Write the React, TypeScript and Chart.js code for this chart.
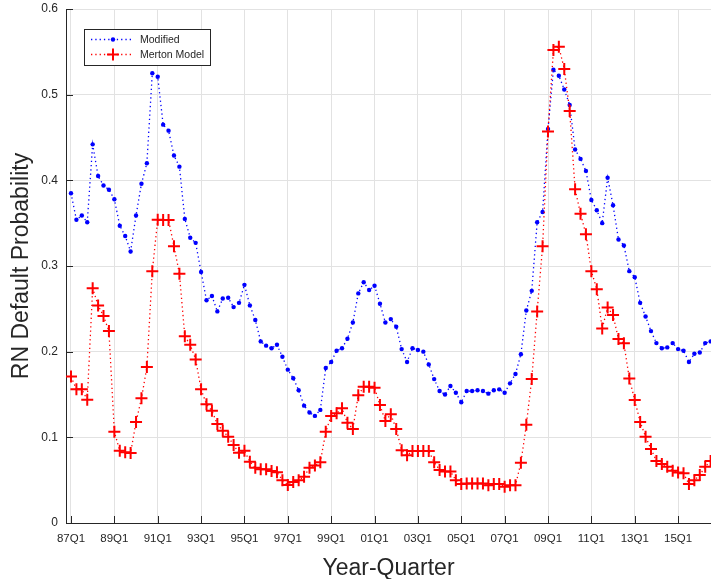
import React, { useEffect, useRef } from "react";
import { Chart, registerables } from "chart.js";
Chart.register(...registerables);

// Quarterly series, index 0 = 87Q1 ... 118 = 16Q3
const modified = [
  0.385, 0.354, 0.359, 0.351, 0.442, 0.405, 0.394, 0.389, 0.378, 0.347,
  0.335, 0.317, 0.359, 0.396, 0.42, 0.525, 0.521, 0.465, 0.458, 0.429,
  0.416, 0.355, 0.333, 0.327, 0.293, 0.26, 0.265, 0.247, 0.262, 0.263,
  0.252, 0.257, 0.278, 0.254, 0.237, 0.212, 0.207, 0.204, 0.208, 0.194,
  0.179, 0.169, 0.155, 0.137, 0.129, 0.125, 0.132, 0.181, 0.188, 0.201,
  0.204, 0.215, 0.234, 0.268, 0.281, 0.272, 0.277, 0.256, 0.234, 0.238,
  0.229, 0.203, 0.188, 0.204, 0.202, 0.2, 0.185, 0.168, 0.154, 0.15,
  0.16, 0.152, 0.141, 0.154, 0.154, 0.155, 0.154, 0.151, 0.155, 0.156,
  0.152, 0.163, 0.174, 0.197, 0.248, 0.271, 0.351, 0.363, 0.46, 0.529,
  0.522, 0.506, 0.488, 0.436, 0.425, 0.411, 0.377, 0.365, 0.35, 0.403,
  0.371, 0.331, 0.324, 0.294, 0.287, 0.257, 0.241, 0.224, 0.21, 0.204,
  0.205, 0.21, 0.203, 0.201, 0.188, 0.1975, 0.199, 0.21, 0.212,
];

const merton = [
  0.171, 0.156, 0.156, 0.144, 0.274, 0.254, 0.2415, 0.224, 0.1065, 0.0844,
  0.0825, 0.0817, 0.118, 0.1455, 0.182, 0.294, 0.354, 0.3536, 0.3536, 0.323,
  0.291, 0.218, 0.208, 0.191, 0.156, 0.1385, 0.131, 0.1155, 0.1077, 0.1007,
  0.091, 0.082, 0.0844, 0.0715, 0.0645, 0.0627, 0.0627, 0.0607, 0.0592, 0.05,
  0.0443, 0.048, 0.05, 0.054, 0.0645, 0.067, 0.071, 0.1065, 0.125, 0.128,
  0.134, 0.117, 0.1097, 0.149, 0.159, 0.159, 0.158, 0.1377, 0.119, 0.127,
  0.1097, 0.085, 0.079, 0.084, 0.084, 0.084, 0.084, 0.071, 0.062, 0.06,
  0.06, 0.05, 0.0455, 0.046, 0.046, 0.046, 0.046, 0.044, 0.0455, 0.0455,
  0.0424, 0.044, 0.044, 0.0704, 0.1147, 0.168, 0.247, 0.323, 0.457, 0.552,
  0.556, 0.53, 0.481, 0.3897, 0.361, 0.337, 0.294, 0.273, 0.227, 0.2517,
  0.2427, 0.2147, 0.2097, 0.1688, 0.1435, 0.118, 0.1007, 0.0863, 0.0723, 0.0688,
  0.0657, 0.061, 0.059, 0.058, 0.0455, 0.05, 0.056, 0.0657, 0.0723,
];

const xTickIndex = [0, 8, 16, 24, 32, 40, 48, 56, 64, 72, 80, 88, 96, 104, 112];
const xTickLabels = [
  "87Q1", "89Q1", "91Q1", "93Q1", "95Q1", "97Q1", "99Q1", "01Q1",
  "03Q1", "05Q1", "07Q1", "09Q1", "11Q1", "13Q1", "15Q1",
];
const yTickValues = [0, 0.1, 0.2, 0.3, 0.4, 0.5, 0.6];
const yTickLabels = ["0", "0.1", "0.2", "0.3", "0.4", "0.5", "0.6"];

const seriesNames = ["Modified", "Merton Model"];
const xTitle = "Year-Quarter";
const yTitle = "RN Default Probability";

const FONT = "'Liberation Sans', Arial, Helvetica, sans-serif";
const DARK = "#262626";

const decorPlugin = {
  id: "decor",
  afterDraw(chart: any) {
    const ctx = chart.ctx;
    const xs = chart.scales.x;
    const ys = chart.scales.y;
    const area = chart.chartArea;
    ctx.save();
    // inward tick marks
    ctx.strokeStyle = DARK;
    ctx.lineWidth = 1;
    ctx.beginPath();
    xTickIndex.forEach((v) => {
      const px = Math.round(xs.getPixelForValue(v)) + 0.5;
      ctx.moveTo(px, area.bottom);
      ctx.lineTo(px, area.bottom - 7);
    });
    yTickValues.forEach((v) => {
      const py = Math.round(ys.getPixelForValue(v)) + 0.5;
      ctx.moveTo(area.left, py);
      ctx.lineTo(area.left + 7, py);
    });
    ctx.stroke();

    // axis titles
    ctx.fillStyle = DARK;
    ctx.font = `23px ${FONT}`;
    ctx.textAlign = "center";
    ctx.textBaseline = "alphabetic";
    ctx.fillText(xTitle, (area.left + area.right) / 2, 575);
    ctx.save();
    ctx.translate(28, (area.top + area.bottom) / 2);
    ctx.rotate(-Math.PI / 2);
    ctx.fillText(yTitle, 0, 0);
    ctx.restore();

    // legend
    const bx = 84.5, by = 29.5, bw = 126, bh = 36;
    ctx.fillStyle = "#ffffff";
    ctx.fillRect(bx, by, bw, bh);
    ctx.strokeStyle = DARK;
    ctx.lineWidth = 1;
    ctx.strokeRect(bx, by, bw, bh);
    const rows = [39.5, 54.5];
    const colors = ["#0000ff", "#ff0000"];
    rows.forEach((ry, k) => {
      ctx.strokeStyle = colors[k];
      ctx.lineWidth = 1.3;
      ctx.setLineDash([1.3, 3]);
      ctx.beginPath();
      ctx.moveTo(91, ry);
      ctx.lineTo(134, ry);
      ctx.stroke();
      ctx.setLineDash([]);
      if (k === 0) {
        ctx.fillStyle = colors[k];
        ctx.beginPath();
        ctx.arc(113, ry, 2.2, 0, Math.PI * 2);
        ctx.fill();
      } else {
        ctx.lineWidth = 2;
        ctx.beginPath();
        ctx.moveTo(107, ry);
        ctx.lineTo(119, ry);
        ctx.moveTo(113, ry - 6);
        ctx.lineTo(113, ry + 6);
        ctx.stroke();
      }
      ctx.fillStyle = DARK;
      ctx.font = `10.5px ${FONT}`;
      ctx.textAlign = "left";
      ctx.textBaseline = "middle";
      ctx.fillText(seriesNames[k], 140, ry + 0.5);
    });
    ctx.restore();
  },
};

export default function App() {
  const ref = useRef<HTMLCanvasElement | null>(null);
  useEffect(() => {
    if (!ref.current) return;
    const chart = new Chart(ref.current, {
      type: "line",
      data: {
        datasets: [
          {
            label: seriesNames[0],
            data: modified.map((v, i) => ({ x: i, y: v })),
            borderColor: "#0000ff",
            backgroundColor: "#0000ff",
            borderWidth: 1.3,
            borderDash: [1.3, 3],
            pointStyle: "circle",
            pointRadius: 2.2,
            pointBorderWidth: 0,
            pointBackgroundColor: "#0000ff",
            fill: false,
            tension: 0,
            order: 1,
          },
          {
            label: seriesNames[1],
            data: merton.map((v, i) => ({ x: i, y: v })),
            borderColor: "#ff0000",
            backgroundColor: "#ff0000",
            borderWidth: 1.3,
            borderDash: [1.3, 3],
            pointStyle: "cross",
            pointRadius: 6,
            pointBorderWidth: 2,
            pointBorderColor: "#ff0000",
            fill: false,
            tension: 0,
            order: 0,
          },
        ],
      },
      options: {
        responsive: false,
        animation: false,
        layout: { autoPadding: false, padding: { top: 9, left: 0, right: 0, bottom: 0 } },
        plugins: {
          legend: { display: false },
          tooltip: { enabled: false },
        },
        scales: {
          x: {
            type: "linear",
            min: -0.92,
            max: 118.07,
            afterBuildTicks: (scale: any) => {
              scale.ticks = xTickIndex.map((v) => ({ value: v }));
            },
            afterFit: (scale: any) => {
              scale.height = 56;
              scale.paddingLeft = 0;
              scale.paddingRight = 0;
            },
            grid: { color: "#e2e2e2", lineWidth: 1, drawTicks: false },
            border: { display: true, color: DARK, width: 1 },
            ticks: {
              padding: 9,
              maxRotation: 0,
              autoSkip: false,
              color: DARK,
              font: { family: FONT, size: 11.5 },
              callback: (value: any) => {
                const k = xTickIndex.indexOf(Math.round(Number(value)));
                return k >= 0 ? xTickLabels[k] : "";
              },
            },
          },
          y: {
            type: "linear",
            min: 0,
            max: 0.6,
            afterBuildTicks: (scale: any) => {
              scale.ticks = yTickValues.map((v) => ({ value: v }));
            },
            afterFit: (scale: any) => {
              scale.width = 66;
              scale.paddingTop = 0;
              scale.paddingBottom = 0;
            },
            grid: { color: "#e2e2e2", lineWidth: 1, drawTicks: false },
            border: { display: true, color: DARK, width: 1 },
            ticks: {
              padding: 8,
              color: DARK,
              font: { family: FONT, size: 12 },
              callback: (value: any) => {
                const k = Math.round(Number(value) * 10);
                return yTickLabels[k] ?? "";
              },
            },
          },
        },
      },
      plugins: [decorPlugin],
    });
    return () => chart.destroy();
  }, []);
  return (
    <div style={{ position: "absolute", left: 0, top: 0, width: 711, height: 579, background: "#fff" }}>
      <canvas ref={ref} width={711} height={579} style={{ display: "block" }} />
    </div>
  );
}
